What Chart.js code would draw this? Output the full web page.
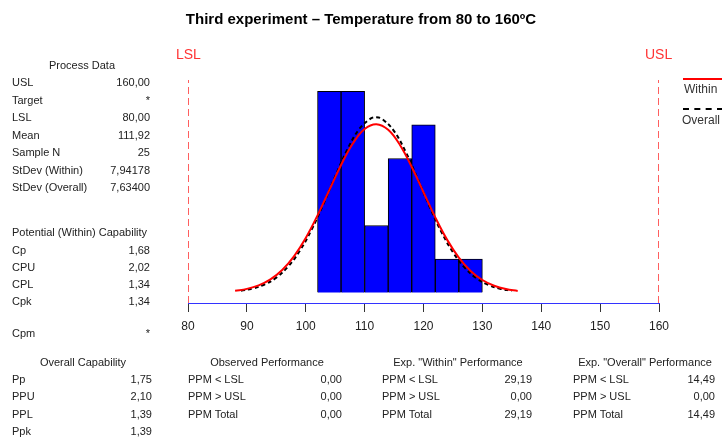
<!DOCTYPE html>
<html><head><meta charset="utf-8">
<script src="https://cdn.jsdelivr.net/npm/chart.js@4/dist/chart.umd.min.js"></script>
<style>
html,body{margin:0;padding:0;background:#fff;width:722px;height:441px;overflow:hidden;}
#wrap{position:relative;width:722px;height:441px;font-family:"Liberation Sans",Arial,sans-serif;color:#222;}
canvas{position:absolute;left:0;top:0;}
.t{position:absolute;white-space:nowrap;font-size:11px;line-height:12px;}
.r{text-align:right;}
.c{text-align:center;}
#title{position:absolute;left:0;width:722px;top:10px;text-align:center;font-weight:bold;font-size:15px;color:#000;}
.spec{position:absolute;color:#ff3333;font-size:14px;}
.lg{position:absolute;font-size:12px;color:#333;white-space:nowrap;}
</style></head>
<body><div id="wrap">
<canvas id="c" width="722" height="441"></canvas>
<div id="title">Third experiment – Temperature from 80 to 160ºC</div>
<div class="spec" style="left:176px;top:46px;">LSL</div>
<div class="spec" style="left:645px;top:46px;">USL</div>
<div style="position:absolute;left:683px;top:78px;width:40px;border-top:2px solid #ff0000;"></div>
<div class="lg" style="left:684px;top:82px;">Within</div>
<div style="position:absolute;left:683px;top:108px;width:40px;border-top:2px dashed #000;"></div>
<div class="lg" style="left:682px;top:113px;">Overall</div>
<div id="tables"></div>
</div>
<script>
// Histogram data (bin centres, bin width 4)
const binCenters = [104, 108, 112, 116, 120, 124, 128];
const binCounts  = [6, 6, 2, 4, 5, 1, 1];
// Fitted curves (counts per bin)
const withinX = [88,90,92,94,96,98,100,102,104,106,108,110,112,114,116,118,120,122,124,126,128,130,132,134,136];
const withinY = [0.054,0.111,0.216,0.394,0.674,1.081,1.628,2.303,3.055,3.804,4.447,4.878,5.023,4.854,4.402,3.747,2.994,2.245,1.580,1.043,0.647,0.376,0.206,0.105,0.051];
const overallX = [89,91,93,95,97,99,101,103,105,107,109,111,112,113,115,117,119,121,123,125,127,129,131,133,135];
const overallY = [0.058,0.122,0.242,0.448,0.774,1.248,1.879,2.641,3.465,4.246,4.857,5.188,5.226,5.174,4.817,4.188,3.399,2.576,1.823,1.204,0.743,0.428,0.230,0.115,0.054];
// Spec limits
const LSL = 80, USL = 160;
const xTicks = [80, 90, 100, 110, 120, 130, 140, 150, 160];

// Text tables
const processLabels = ["USL","Target","LSL","Mean","Sample N","StDev (Within)","StDev (Overall)"];
const processValues = ["160,00","*","80,00","111,92","25","7,94178","7,63400"];
const potLabels = ["Cp","CPU","CPL","Cpk"];
const potValues = ["1,68","2,02","1,34","1,34"];
const overallLabels = ["Pp","PPU","PPL","Ppk"];
const overallValues = ["1,75","2,10","1,39","1,39"];
const ppmLabels = ["PPM < LSL","PPM > USL","PPM Total"];
const observedValues = ["0,00","0,00","0,00"];
const expWithinValues = ["29,19","0,00","29,19"];
const expOverallValues = ["14,49","0,00","14,49"];

const YMIN = -0.31, YMAX = 6.34;

const tb = document.getElementById('tables');
function txt(s, x, y, cls){
  const d = document.createElement('div');
  d.className = 't ' + (cls||'');
  d.textContent = s;
  d.style.top = (y - 6) + 'px';
  if (cls === 'r') { d.style.left = (x - 120) + 'px'; d.style.width = '120px'; }
  else if (cls === 'c') { d.style.left = (x - 100) + 'px'; d.style.width = '200px'; }
  else d.style.left = x + 'px';
  tb.appendChild(d);
}
txt("Process Data", 82, 65, 'c');
processLabels.forEach((l,i)=>{ const y = 82 + i*17.5; txt(l, 12, y); txt(processValues[i], 150, y, 'r'); });
txt("Potential (Within) Capability", 12, 232);
potLabels.forEach((l,i)=>{ const y = 250 + i*17; txt(l, 12, y); txt(potValues[i], 150, y, 'r'); });
txt("Cpm", 12, 333); txt("*", 150, 333, 'r');
txt("Overall Capability", 83, 362, 'c');
overallLabels.forEach((l,i)=>{ const y = 379 + i*17.3; txt(l, 12, y); txt(overallValues[i], 152, y, 'r'); });
txt("Observed Performance", 267, 362, 'c');
txt('Exp. "Within" Performance', 458, 362, 'c');
txt('Exp. "Overall" Performance', 645, 362, 'c');
ppmLabels.forEach((l,i)=>{
  const y = 379 + i*17.3;
  txt(l, 188, y); txt(observedValues[i], 342, y, 'r');
  txt(l, 382, y); txt(expWithinValues[i], 532, y, 'r');
  txt(l, 573, y); txt(expOverallValues[i], 715, y, 'r');
});

new Chart(document.getElementById('c'), {
  type: 'bar',
  data: {
    datasets: [
      { type:'line', label:'Within', data: withinX.map((x,i)=>({x, y: withinY[i]})),
        borderColor:'#ff0000', borderWidth:2, pointRadius:0, tension:0.4, fill:false, order:1 },
      { type:'line', label:'Overall', data: overallX.map((x,i)=>({x, y: overallY[i]})),
        borderColor:'#000000', borderWidth:2, borderDash:[4,3], pointRadius:0, tension:0.4, fill:false, order:2 },
      { type:'bar', label:'Counts', data: binCenters.map((x,i)=>({x, y: binCounts[i]})),
        backgroundColor:'#0000ff', borderColor:'#000000', borderWidth:1,
        barPercentage:1, categoryPercentage:1, grouped:false, order:3 },
      { type:'line', label:'LSL', data:[{x:LSL,y:YMIN},{x:LSL,y:YMAX}],
        borderColor:'#ff2a2a', borderWidth:1.5, borderDash:[7,4], pointRadius:0, order:4 },
      { type:'line', label:'USL', data:[{x:USL,y:YMIN},{x:USL,y:YMAX}],
        borderColor:'#ff2a2a', borderWidth:1.5, borderDash:[7,4], pointRadius:0, order:4 }
    ]
  },
  options: {
    responsive:false, animation:false, devicePixelRatio:1,
    layout:{ padding:{ left:188, right:63, top:80, bottom:108 } },
    plugins:{ legend:{display:false}, tooltip:{enabled:false}, title:{display:false} },
    scales:{
      x:{ type:'linear', min:80, max:160, offset:false,
          afterBuildTicks:(s)=>{ s.ticks = xTicks.map(v=>({value:v})); },
          afterFit:(s)=>{ s.height = 30; },
          border:{ display:true, color:'#3333ff', width:1 },
          grid:{ offset:false, drawOnChartArea:false, drawTicks:true, tickLength:9, color:'#333' },
          ticks:{ color:'#222', padding:7, font:{ family:'"Liberation Sans", Arial', size:12 } } },
      y:{ type:'linear', min:YMIN, max:YMAX, display:false }
    }
  }
});
</script>
</body></html>
